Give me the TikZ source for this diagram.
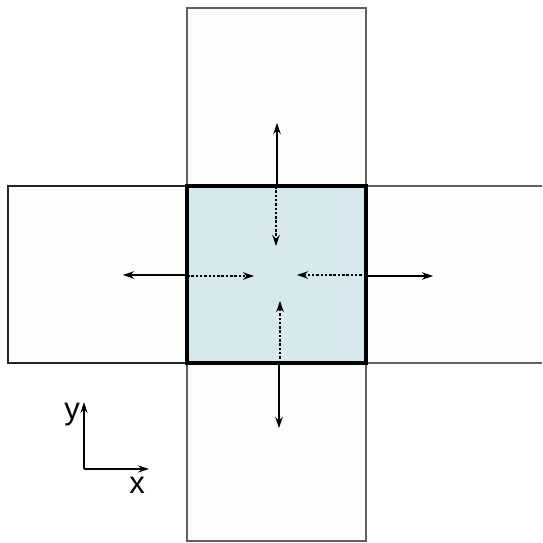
\documentclass[tikz,border=0pt]{standalone}
\usepackage{fontspec}
\setmainfont{Liberation Sans}
\usetikzlibrary{arrows.meta}
\definecolor{cellblue}{HTML}{D6E9EE}
\definecolor{cellpale}{HTML}{FCFDFD}
\definecolor{cellline}{HTML}{606060}
\begin{document}
\begin{tikzpicture}[x=1pt,y=-1pt,
  outer/.style={draw=cellline,line width=1.1pt},
  leftcell/.style={draw=black!85,line width=1.6pt},
  inner/.style={draw=black,line width=3.4pt},
  solidarr/.style={-{Stealth[length=11pt,width=7.5pt]},line width=1.1pt},
  dasharr/.style={-{Stealth[length=11pt,width=7.5pt]},line width=1.1pt,dash pattern=on 2.5pt off 1.8pt},
  axis/.style={-{Stealth[length=11pt,width=7pt]},line width=1.2pt},
  lab/.style={font=\fontsize{31}{33}\selectfont,inner sep=0pt}]
\useasboundingbox (0,0) rectangle (542,543);
% fills
\fill[cellpale] (187,8) rectangle (366,186);
\fill[cellpale] (187,363) rectangle (366,541);
\fill[cellpale] (8,186) rectangle (187,363);
\fill[cellpale] (366,186) rectangle (542,363);
\fill[cellblue] (187,186) rectangle (366,363);
% outer borders
\draw[outer] (187,8) rectangle (366,186);
\draw[outer] (187,363) rectangle (366,541);
\draw[outer] (542,186) -- (366,186) -- (366,363) -- (542,363);
\draw[leftcell] (8,186) rectangle (187,363);
\draw[inner] (187,186) rectangle (366,363);
% coordinates
\coordinate (tS) at (277,186); \coordinate (tE) at (277,123);
\coordinate (tdS) at (276,186); \coordinate (tdE) at (276,246);
\coordinate (lS) at (187,275); \coordinate (lE) at (123,275);
\coordinate (ldS) at (187,276); \coordinate (ldE) at (254,276);
\coordinate (rdS) at (366,275); \coordinate (rdE) at (297,275);
\coordinate (rS) at (366,276); \coordinate (rE) at (433,276);
\coordinate (bdS) at (280,363); \coordinate (bdE) at (280,301);
\coordinate (bS) at (279,363); \coordinate (bE) at (279,428);
\draw[solidarr] (tS) -- (tE);
\draw[dasharr] (tdS) -- (tdE);
\draw[solidarr] (lS) -- (lE);
\draw[dasharr] (ldS) -- (ldE);
\draw[dasharr] (rdS) -- (rdE);
\draw[solidarr] (rS) -- (rE);
\draw[dasharr] (bdS) -- (bdE);
\draw[solidarr] (bS) -- (bE);
% axes
\coordinate (o) at (84,469);
\coordinate (ay) at (84,402);
\coordinate (ax) at (149,469);
\draw[axis] (o) -- (ay);
\draw[axis] (o) -- (ax);
\node[lab,anchor=base east] (ylab) at (80,419) {y};
\node[lab,anchor=base] (xlab) at (137,493) {x};
\end{tikzpicture}
\end{document}
